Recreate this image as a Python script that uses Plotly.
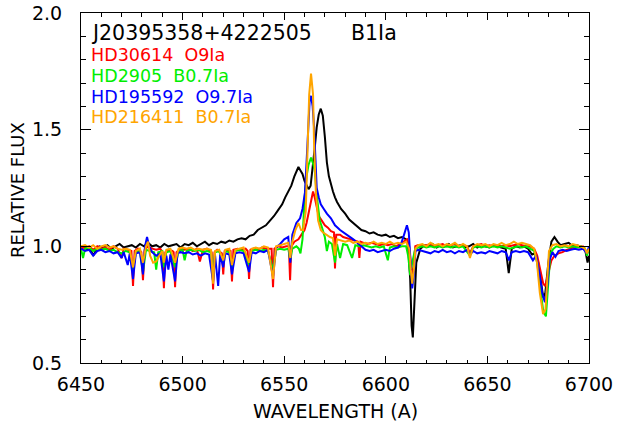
import plotly.graph_objects as go

# ---------------- data ----------------
wl_j2039 = [6450, 6451.5, 6453, 6454.5, 6456, 6457.5, 6459, 6461, 6463, 6465, 6467, 6469, 6471, 6473, 6475, 6477,
            6479, 6481, 6483, 6485, 6487, 6489, 6491, 6493, 6495, 6497, 6499, 6501, 6503, 6505, 6507, 6509, 6511,
            6513, 6515, 6517, 6519, 6521, 6523, 6525, 6527, 6529, 6531, 6533, 6535, 6537, 6539, 6541, 6543, 6545,
            6547, 6549, 6550.5, 6552, 6553.5, 6555, 6556, 6557, 6558, 6559, 6560, 6561, 6562, 6563, 6564, 6565,
            6566, 6567, 6568, 6569, 6570, 6571, 6572, 6573, 6574, 6575, 6576, 6578, 6580, 6582, 6584, 6586, 6588,
            6590, 6592, 6594, 6596, 6598, 6600, 6602, 6604, 6606, 6608, 6610, 6611, 6612, 6612.7, 6613.3, 6614,
            6615, 6616, 6617, 6619, 6621, 6623, 6625, 6627, 6629, 6631, 6633, 6635, 6637, 6639, 6641, 6643, 6645,
            6647, 6649, 6651, 6653, 6655, 6657, 6659, 6660.5, 6662, 6664, 6666, 6668, 6670, 6672, 6673.5, 6675,
            6676.5, 6677.5, 6678.5, 6680, 6681.5, 6683, 6684.5, 6686, 6688, 6690, 6692, 6694, 6696, 6698, 6699.3,
            6700]
flux_j2039 = [0.99, 1.00, 0.985, 0.99, 0.96, 0.985, 1.00, 0.995, 1.005, 0.99, 1.00, 1.01, 0.995, 1.00, 1.005, 0.995,
              1.01, 1.00, 1.015, 1.00, 1.005, 0.995, 1.01, 1.00, 1.005, 1.01, 0.995, 1.01, 1.005, 1.015, 1.00, 1.01,
              1.02, 1.005, 1.015, 1.01, 1.02, 1.015, 1.025, 1.02, 1.03, 1.035, 1.03, 1.045, 1.05, 1.07, 1.08, 1.09,
              1.11, 1.13, 1.155, 1.18, 1.21, 1.235, 1.26, 1.30, 1.32, 1.34, 1.325, 1.31, 1.28, 1.26, 1.245, 1.26,
              1.33, 1.42, 1.51, 1.565, 1.59, 1.56, 1.47, 1.36, 1.30, 1.26, 1.235, 1.21, 1.19, 1.16, 1.14, 1.115,
              1.10, 1.085, 1.07, 1.065, 1.055, 1.06, 1.05, 1.045, 1.05, 1.04, 1.045, 1.035, 1.04, 1.03, 1.00, 0.86,
              0.66, 0.61, 0.74, 0.93, 0.96, 0.99, 1.005, 1.00, 1.01, 0.995, 1.005, 1.00, 1.01, 0.995, 1.00, 1.005,
              0.995, 1.00, 1.01, 0.995, 1.005, 1.00, 0.995, 1.005, 1.00, 0.995, 0.99, 0.885, 0.99, 1.00, 0.995, 1.00,
              0.99, 0.965, 0.97, 0.93, 0.84, 0.78, 0.80, 0.93, 1.02, 1.04, 1.02, 1.005, 1.01, 1.015, 1.00, 1.005,
              1.00, 0.99, 0.93, 0.96]

wl_hd30614 = [6450, 6452, 6454, 6456, 6458, 6460, 6462, 6464, 6466, 6468, 6470, 6471, 6473, 6474.8, 6475.6, 6476.4,
              6478, 6479.7, 6480.5, 6481.3, 6483, 6485, 6487, 6489, 6490.1, 6490.8, 6491.5, 6493, 6495, 6495.6,
              6496.3, 6497, 6499, 6501, 6503, 6505, 6507, 6508.5, 6510, 6512, 6514.3, 6515, 6515.7, 6517, 6519.3,
              6520, 6520.7, 6522, 6523.6, 6524.3, 6525, 6527, 6529, 6531, 6532, 6532.7, 6533.4, 6535, 6537, 6539,
              6541, 6543.8, 6544.5, 6545.2, 6547, 6549, 6551, 6552.3, 6552.9, 6553.5, 6555, 6557, 6558.5, 6560,
              6561, 6562, 6563, 6564.2, 6565, 6566, 6567, 6568.5, 6570, 6571.5, 6573, 6574.5, 6575, 6575.6, 6577.5,
              6579, 6581, 6583, 6585, 6586.4, 6587, 6587.6, 6589, 6591, 6593, 6595, 6597, 6599, 6601, 6603, 6605,
              6607, 6609, 6610.5, 6611.5, 6612.3, 6613, 6613.8, 6614.5, 6616, 6618, 6620, 6622, 6624, 6626, 6628,
              6630, 6632, 6634, 6636, 6638, 6640, 6641.4, 6643, 6645, 6647, 6649, 6651, 6653, 6655, 6657, 6659,
              6661, 6663, 6665, 6667, 6669, 6671, 6673, 6674.5, 6676, 6677.5, 6678.5, 6680, 6681.5, 6683, 6685,
              6687, 6689, 6691, 6693, 6695, 6697, 6699, 6700]
flux_hd30614 = [1.00, 0.99, 1.00, 0.985, 1.00, 0.99, 0.995, 0.985, 1.00, 0.99, 0.95, 0.99, 0.985, 0.98, 0.83, 0.98,
                0.99, 0.975, 0.855, 0.985, 1.00, 0.99, 0.985, 0.99, 0.975, 0.82, 0.975, 0.985, 0.98, 0.975, 0.825,
                0.975, 0.99, 0.985, 0.99, 0.98, 0.99, 0.935, 0.985, 0.99, 0.975, 0.815, 0.975, 0.985, 0.97, 0.88,
                0.98, 0.985, 0.98, 0.85, 0.985, 0.99, 0.985, 0.99, 0.98, 0.86, 0.985, 0.99, 0.985, 0.995, 0.99, 0.99,
                0.825, 0.99, 1.00, 0.995, 1.00, 1.00, 0.855, 1.00, 1.02, 1.03, 1.05, 1.07, 1.10, 1.14, 1.19, 1.235,
                1.21, 1.17, 1.13, 1.11, 1.09, 1.08, 1.065, 1.06, 0.905, 1.05, 1.05, 1.04, 1.035, 1.03, 1.025, 1.02,
                0.95, 1.02, 1.015, 1.01, 1.015, 1.01, 1.005, 1.01, 1.005, 1.01, 1.00, 1.01, 1.02, 1.03, 1.00, 0.92,
                0.86, 0.93, 1.00, 1.005, 1.00, 1.005, 1.01, 1.00, 1.005, 1.01, 1.00, 1.005, 1.01, 1.00, 1.005, 1.00,
                0.97, 1.00, 1.005, 1.01, 1.00, 1.005, 1.00, 1.005, 1.00, 1.005, 1.00, 1.005, 1.01, 1.005, 1.00, 1.00,
                0.99, 0.96, 0.90, 0.84, 0.83, 0.89, 0.94, 0.96, 0.97, 0.975, 0.985, 0.99, 1.00, 0.995, 1.00, 0.97,
                0.99]

wl_hd2905 = [6450, 6451, 6452, 6454, 6456, 6458, 6460, 6462, 6464, 6466, 6468, 6470, 6472, 6474, 6475.6, 6477, 6479,
             6480.5, 6482, 6484, 6486, 6487, 6488, 6490, 6490.8, 6492, 6494, 6496.3, 6498, 6500, 6501, 6502, 6504,
             6506, 6508, 6510, 6512, 6514, 6515, 6516, 6518, 6520, 6521, 6523, 6524.3, 6526, 6528, 6530, 6532.7,
             6534, 6536, 6538, 6540, 6542, 6544.5, 6546, 6548, 6550, 6552, 6553, 6554, 6556, 6557.2, 6558, 6559,
             6560, 6561, 6562, 6563.2, 6564, 6565, 6566, 6566.7, 6567.5, 6568.6, 6570, 6571, 6572, 6573.5, 6575,
             6576, 6577.5, 6579, 6581, 6583.4, 6585, 6587, 6589, 6591, 6593, 6595, 6597, 6599, 6601, 6602, 6604,
             6606, 6608, 6610, 6611, 6612, 6613, 6614.5, 6616, 6618, 6620, 6622, 6624, 6626, 6628, 6630, 6632,
             6634, 6636, 6638, 6641.4, 6643, 6645, 6647, 6649, 6651, 6653, 6655, 6657, 6659, 6661, 6663, 6665,
             6667, 6669, 6671, 6673, 6674.5, 6676, 6677.5, 6678.8, 6680, 6681, 6682.5, 6684, 6686, 6688, 6690,
             6692, 6694, 6696, 6698, 6699, 6700]
flux_hd2905 = [0.99, 0.95, 0.99, 0.995, 0.98, 0.99, 0.985, 0.99, 0.98, 0.985, 0.975, 0.97, 0.98, 0.975, 0.90, 0.975,
               0.98, 0.89, 0.985, 0.98, 0.975, 0.90, 0.975, 0.98, 0.91, 0.975, 0.98, 0.91, 0.98, 0.985, 0.94, 0.98,
               0.985, 0.98, 0.985, 0.975, 0.98, 0.975, 0.87, 0.975, 0.98, 0.93, 0.98, 0.975, 0.91, 0.98, 0.985, 0.98,
               0.92, 0.98, 0.985, 0.98, 0.985, 0.98, 0.90, 0.985, 0.99, 0.985, 0.99, 0.94, 0.99, 1.00, 0.99, 0.97,
               1.03, 1.20, 1.30, 1.35, 1.38, 1.36, 1.33, 1.22, 1.155, 1.11, 1.08, 1.04, 0.98, 1.02, 1.01, 0.93, 1.01,
               0.95, 1.01, 1.005, 0.95, 1.005, 1.00, 1.005, 1.00, 0.995, 1.00, 0.995, 1.00, 0.94, 0.995, 1.00, 0.995,
               1.00, 1.00, 0.96, 0.876, 0.93, 0.99, 0.995, 1.00, 0.995, 1.00, 0.995, 1.00, 0.995, 1.00, 0.995, 1.00,
               0.995, 1.00, 0.96, 0.995, 1.00, 0.995, 1.00, 0.995, 1.00, 0.995, 1.00, 0.995, 0.99, 0.995, 1.00, 0.995,
               1.00, 0.99, 0.98, 0.93, 0.82, 0.72, 0.70, 0.86, 0.97, 0.99, 1.00, 0.995, 1.00, 0.995, 1.00, 0.995,
               1.00, 0.99, 0.96, 0.99]

wl_hd195592 = [6450, 6452, 6454, 6456, 6458, 6460, 6462, 6464, 6466, 6468, 6470, 6471, 6473, 6474, 6475.6, 6477,
               6479, 6480.5, 6481.5, 6482.5, 6483.5, 6485, 6487, 6489, 6490.8, 6492, 6493, 6494, 6496.3, 6497.5,
               6499, 6501, 6503, 6505, 6507, 6509, 6511, 6513, 6515, 6516, 6517.5, 6518.5, 6520, 6521, 6523, 6524.3,
               6526, 6528, 6530, 6532.7, 6534, 6536, 6538, 6540, 6542, 6544.5, 6546, 6548, 6550, 6552, 6553, 6554,
               6556, 6557.8, 6559, 6560.2, 6561, 6561.8, 6562.5, 6563.2, 6564, 6564.7, 6565.3, 6566, 6567, 6568,
               6569.5, 6571, 6573, 6575, 6577.5, 6580, 6582, 6584, 6586, 6588, 6590, 6592, 6594, 6596, 6598, 6600,
               6602, 6604, 6606, 6607.5, 6609, 6610.4, 6611.3, 6612.2, 6613, 6613.8, 6614.6, 6616, 6618, 6620, 6622,
               6624, 6626, 6628, 6630, 6632, 6634, 6636, 6638, 6640, 6641.5, 6643, 6645, 6647, 6649, 6651, 6653,
               6655, 6657, 6659, 6660.6, 6662, 6664, 6666, 6668, 6670, 6672.4, 6674, 6675.5, 6677, 6678.3, 6679.5,
               6680.5, 6682, 6683.5, 6685, 6687, 6689, 6691, 6693, 6695, 6697, 6699, 6700]
flux_hd195592 = [0.99, 0.98, 0.985, 0.96, 0.98, 0.985, 0.975, 0.98, 0.97, 0.975, 0.95, 0.975, 0.92, 0.97, 0.86, 0.97,
                 0.975, 0.88, 1.00, 1.04, 1.00, 0.975, 0.96, 0.97, 0.85, 0.96, 0.90, 0.965, 0.85, 0.97, 0.975, 0.97,
                 0.975, 0.965, 0.97, 0.96, 0.97, 0.965, 0.85, 0.96, 0.83, 0.965, 0.91, 0.97, 0.965, 0.88, 0.97, 0.975,
                 0.97, 0.89, 0.975, 0.97, 0.98, 0.975, 0.985, 0.87, 0.995, 1.01, 1.03, 1.04, 0.93, 1.05, 1.10, 1.12,
                 1.16, 1.23, 1.36, 1.51, 1.62, 1.645, 1.60, 1.51, 1.38, 1.25, 1.21, 1.18, 1.16, 1.14, 1.12, 1.09, 1.07,
                 1.055, 1.045, 1.03, 1.015, 1.00, 0.985, 0.98, 0.985, 0.975, 0.98, 0.985, 0.98, 0.99, 0.995, 1.01,
                 1.05, 1.09, 1.06, 0.93, 0.82, 0.88, 0.98, 0.985, 0.98, 0.975, 0.97, 0.98, 0.975, 0.985, 0.975, 0.98,
                 0.97, 0.98, 0.975, 0.985, 0.965, 0.98, 0.97, 0.975, 0.97, 0.98, 0.975, 0.97, 0.98, 0.975, 0.94, 0.975,
                 0.98, 0.975, 0.98, 0.975, 0.94, 0.96, 0.89, 0.80, 0.76, 0.83, 0.94, 0.975, 0.955, 0.98, 0.985, 0.98,
                 0.985, 0.99, 0.985, 0.99, 0.97, 1.00]

wl_hd216411 = [6450, 6452, 6454, 6456, 6458, 6460, 6462, 6464, 6466, 6468, 6470, 6472, 6474, 6475.6, 6477, 6479,
               6480.5, 6482, 6483, 6484, 6485.5, 6487, 6488.5, 6490, 6490.8, 6492, 6494, 6496.3, 6498, 6500, 6502,
               6504, 6506, 6508, 6510, 6512, 6514, 6515, 6516, 6518, 6520, 6521, 6523, 6524.3, 6526, 6528, 6530,
               6532.7, 6534, 6536, 6538, 6540, 6542, 6544.5, 6546, 6548, 6550, 6552, 6553, 6554, 6555.5, 6557,
               6558.3, 6559.3, 6560.6, 6561.2, 6562.3, 6563.2, 6564.2, 6564.7, 6565.6, 6566.7, 6568, 6569, 6570.5,
               6572.5, 6574, 6575, 6576, 6578, 6580, 6582, 6584, 6586, 6588, 6590, 6592, 6594, 6596, 6598, 6600,
               6602, 6604, 6606, 6608, 6610, 6611.5, 6612.3, 6613, 6613.8, 6614.6, 6616, 6618, 6620, 6622, 6624,
               6626, 6628, 6630, 6632, 6634, 6636, 6638, 6640, 6641.4, 6643, 6645, 6647, 6649, 6651, 6653, 6655,
               6657, 6659, 6661, 6663, 6665, 6667, 6669, 6671, 6673, 6674.4, 6675.8, 6677.4, 6678.6, 6679.5, 6680.3,
               6682, 6684, 6686, 6688, 6690, 6692, 6694, 6696, 6698, 6699, 6700]
flux_hd216411 = [1.00, 1.005, 0.995, 1.005, 0.99, 1.00, 1.005, 0.995, 1.00, 0.99, 0.985, 0.99, 0.985, 0.91, 0.98,
                 0.99, 0.93, 1.00, 1.02, 0.96, 0.93, 0.935, 0.96, 0.98, 0.93, 0.985, 0.99, 0.93, 0.99, 0.995, 0.99,
                 0.995, 0.985, 0.99, 0.985, 0.99, 0.985, 0.84, 0.98, 0.985, 0.94, 0.985, 0.99, 0.92, 0.985, 0.99,
                 0.995, 0.93, 0.99, 0.995, 0.99, 1.00, 0.995, 0.86, 1.00, 1.005, 1.01, 1.015, 0.95, 1.02, 1.07, 1.10,
                 1.07, 1.07, 1.15, 1.37, 1.65, 1.74, 1.65, 1.44, 1.23, 1.11, 1.07, 1.06, 1.05, 1.04, 1.035, 0.96, 1.03,
                 1.025, 1.02, 1.025, 1.015, 1.02, 1.01, 1.015, 1.01, 1.02, 1.01, 1.015, 1.01, 1.02, 1.01, 1.015, 1.01,
                 1.02, 0.99, 0.90, 0.84, 0.90, 0.99, 1.005, 1.01, 1.00, 1.015, 1.005, 1.01, 1.00, 1.01, 1.005, 1.015,
                 1.00, 1.01, 1.00, 0.95, 1.00, 1.01, 1.005, 1.01, 1.00, 1.01, 1.005, 1.015, 1.005, 1.01, 1.02, 1.01,
                 1.015, 1.01, 1.005, 0.99, 0.93, 0.80, 0.71, 0.73, 0.86, 0.98, 1.005, 1.01, 1.00, 1.005, 1.00, 1.01,
                 1.005, 1.00, 0.99, 0.97, 0.99]

series_names = ["J20395358+4222505", "HD30614", "HD2905", "HD195592", "HD216411"]
series_types = ["B1Ia", "O9Ia", "B0.7Ia", "O9.7Ia", "B0.7Ia"]
series_colors = ["#000000", "#ff0000", "#00ee00", "#0000ff", "#ffa500"]
x_ticks = [6450, 6500, 6550, 6600, 6650, 6700]
y_ticks = [0.5, 1.0, 1.5, 2.0]
y_tick_labels = ["0.5", "1.0", "1.5", "2.0"]
x_title = "WAVELENGTH (A)"
y_title = "RELATIVE FLUX"

wls = [wl_j2039, wl_hd30614, wl_hd2905, wl_hd195592, wl_hd216411]
fluxes = [flux_j2039, flux_hd30614, flux_hd2905, flux_hd195592, flux_hd216411]

FONT = "DejaVu Sans"

fig = go.Figure()
for name, wl, fl, col in zip(series_names, wls, fluxes, series_colors):
    fig.add_trace(go.Scatter(x=wl, y=fl, mode="lines", name=name,
                             line=dict(color=col, width=2), showlegend=False))

# labels inside the plot
fig.add_annotation(x=6454.5, y=1.914, text=series_names[0], showarrow=False, xanchor="left",
                   yanchor="middle", borderpad=0, font=dict(family=FONT, size=20.5, color="#000000"))
fig.add_annotation(x=6582.4, y=1.914, text=series_types[0], showarrow=False, xanchor="left",
                   yanchor="middle", borderpad=0, font=dict(family=FONT, size=20.5, color="#000000"))
label_y = [1.818, 1.730, 1.642, 1.554]
for i in range(1, 5):
    fig.add_annotation(x=6454.5, y=label_y[i - 1],
                       text=series_names[i] + "&nbsp;&nbsp;" + series_types[i],
                       showarrow=False, xanchor="left", yanchor="middle", borderpad=0,
                       font=dict(family=FONT, size=17.5, color=series_colors[i]))

# axis titles
fig.add_annotation(x=0.5, y=-0.137, xref="paper", yref="paper", text=x_title, showarrow=False,
                   xanchor="center", yanchor="middle", font=dict(family=FONT, size=19, color="#000000"))
fig.add_annotation(x=-0.126, y=0.494, xref="paper", yref="paper", text=y_title, showarrow=False,
                   textangle=-90, xanchor="center", yanchor="middle",
                   font=dict(family=FONT, size=18, color="#000000"))

axis_common = dict(showgrid=False, zeroline=False, showline=True, linecolor="#000000", linewidth=1,
                   mirror="ticks", ticks="inside", tickcolor="#000000", automargin=False,
                   ticklabeloverflow="allow",
                   tickfont=dict(family=FONT, size=19, color="#000000"))

fig.update_xaxes(range=[6450, 6700], tickvals=x_ticks, ticklen=7, tickwidth=1, ticklabelstandoff=4,
                 minor=dict(dtick=10, ticklen=3.5, ticks="inside", tickcolor="#000000", showgrid=False),
                 **axis_common)
fig.update_yaxes(range=[0.5, 2.0], tickvals=y_ticks, ticktext=y_tick_labels, ticklen=10, tickwidth=1,
                 ticklabelstandoff=14,
                 minor=dict(dtick=0.1, ticklen=5, ticks="inside", tickcolor="#000000", showgrid=False),
                 **axis_common)

fig.update_layout(width=617, height=430, margin=dict(l=81, r=28, t=13, b=67),
                  paper_bgcolor="white", plot_bgcolor="white")

# remove the default 8 px page margin so the figure fills the window exactly; hide the mode bar
fig.write_html("out.html", config={"displayModeBar": False},
               post_script="document.body.style.margin='0px';")
